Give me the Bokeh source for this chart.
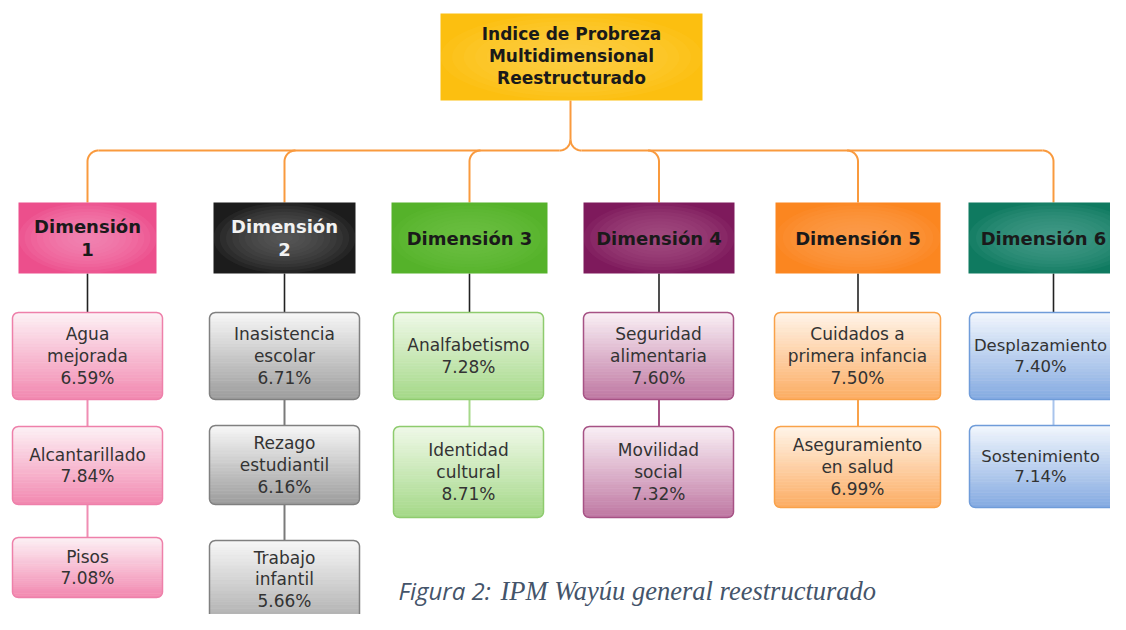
import numpy as np
from bokeh.plotting import figure
from bokeh.models import Range1d
from bokeh.core.properties import value
from bokeh.embed import file_html
from bokeh.resources import INLINE

# ---------------- data ----------------
root_label = "Indice de Probreza\nMultidimensional\nReestructurado"
dimension_labels = ["Dimensión\n1", "Dimensión\n2", "Dimensión 3",
                    "Dimensión 4", "Dimensión 5", "Dimensión 6"]
d1_labels = ["Agua\nmejorada", "Alcantarillado", "Pisos"]
d1_values = [6.59, 7.84, 7.08]
d2_labels = ["Inasistencia\nescolar", "Rezago\nestudiantil", "Trabajo\ninfantil"]
d2_values = [6.71, 6.16, 5.66]
d3_labels = ["Analfabetismo", "Identidad\ncultural"]
d3_values = [7.28, 8.71]
d4_labels = ["Seguridad\nalimentaria", "Movilidad\nsocial"]
d4_values = [7.60, 7.32]
d5_labels = ["Cuidados a\nprimera infancia", "Aseguramiento\nen salud"]
d5_values = [7.50, 6.99]
d6_labels = ["Desplazamiento", "Sostenimiento"]
d6_values = [7.40, 7.14]
caption_a = "Figura 2:"
caption_b = "IPM Wayúu general reestructurado"

indicator_labels = [d1_labels, d2_labels, d3_labels, d4_labels, d5_labels, d6_labels]
indicator_values = [d1_values, d2_values, d3_values, d4_values, d5_values, d6_values]

# ---------------- layout / style ----------------
root_box = (440, 702, 13, 100)
hdr_x = [(18, 156), (213, 355), (391, 547), (583, 734), (775, 940), (968, 1138)]
hdr_text_x = [87, 284, 469, 658.5, 857.5, 1043]
hdr_y = (202, 273)
child_x = [(12, 162), (209, 359), (393, 543), (583, 733), (774, 940), (969, 1137)]
child_text_x = [87, 284, 468, 658, 857, 1040]
child_font = ["17px", "17px", "17px", "17px", "17px", "16.5px"]
# (top, bottom, text centre) of every indicator box
child_y = [[(312, 399, 355.5), (426, 504, 465), (537, 597, 567)],
           [(312, 399, 355.5), (425, 504, 464.5), (540, 640, 579)],
           [(312, 399, 355.5), (426, 517, 471.5)],
           [(312, 399, 355.5), (426, 517, 471.5)],
           [(312, 399, 355.5), (426, 507, 466.5)],
           [(312, 399, 355.5), (425, 507, 466)]]
bus_y = 150
brace_x = 570
corner_r = 11
LH = 1.09  # bokeh line height factor giving ~21.5px line spacing at 17px

hdr_fill = ["#EC4F8C", "#1C1C1C", "#55B22A", "#7E1A5C", "#FB8620", "#0F7A60"]
hdr_glow = ["#F596BC", "#6A6A6A", "#74C44B", "#A9598E", "#FDA75C", "#52A893"]
hdr_text = ["#1a1a1a", "#F2F2F2", "#1a1a1a", "#1a1a1a", "#1a1a1a", "#1a1a1a"]
child_top = ["#FDF2F6", "#F8F8F8", "#F0F9E9", "#FAF1F6", "#FFF5EA", "#F3F7FD"]
child_bot = ["#F288B0", "#9C9C9C", "#A4D887", "#BF77A2", "#FCAC62", "#84AAE1"]
child_edge = ["#EE80AA", "#808080", "#8ECB6E", "#A65285", "#F9A24A", "#6F9CD9"]
link_col = ["#F08DB3", "#7A7A7A", "#A6D98A", "#A65285", "#F9A24A", "#A9C4EC"]
orange_line = "#F99A3E"

W, H = 1110, 614
p = figure(width=W, height=H, x_range=Range1d(0, W), y_range=Range1d(H, 0),
           output_backend="svg", toolbar_location=None, min_border=0,
           x_axis_location=None, y_axis_location=None)
p.grid.visible = False
p.outline_line_color = None
p.background_fill_color = "white"
p.border_fill_color = "white"


def hex_to_rgb(c):
    c = c.lstrip("#")
    return np.array([int(c[i:i + 2], 16) for i in (0, 2, 4)], dtype=float)


def mix(c1, c2, t):
    a, b = hex_to_rgb(c1), hex_to_rgb(c2)
    m = a + (b - a) * t
    return "#%02x%02x%02x" % tuple(int(round(v)) for v in m)


def inset(y, y0, y1, r):
    if y < y0 + r:
        d = y0 + r - y
    elif y > y1 - r:
        d = y - (y1 - r)
    else:
        return 0.0
    return r - np.sqrt(max(r * r - d * d, 0.0))


def band(x0, x1, y0, y1, r, ya, yb, k=6):
    ys = np.linspace(ya, yb, k)
    lx = [x0 + inset(y, y0, y1, r) for y in ys]
    rx = [x1 - inset(y, y0, y1, r) for y in ys]
    return lx + rx[::-1], list(ys) + list(ys[::-1])


def gradient_box(x0, x1, y0, y1, r, ctop, cbot, edge, n=28):
    xs, ys, cs = [], [], []
    edges = np.linspace(y0, y1, n + 1)
    for i in range(n):
        bx, by = band(x0, x1, y0, y1, r, edges[i], edges[i + 1])
        xs.append(bx); ys.append(by)
        cs.append(mix(ctop, cbot, (i + 0.5) / n))
    p.patches(xs=xs, ys=ys, fill_color=cs, line_color=cs, line_width=0.6)
    oy = np.concatenate([np.linspace(y0, y0 + r, 14), np.linspace(y1 - r, y1, 14)])
    ox = [x0 + inset(y, y0, y1, r) for y in oy]
    ox2 = [x1 - inset(y, y0, y1, r) for y in oy]
    p.patch(x=ox + ox2[::-1], y=list(oy) + list(oy[::-1]), fill_color=None,
            line_color=edge, line_width=1.5)


def glow_box(x0, x1, y0, y1, fill, glow, alpha=0.12, steps=11):
    p.quad(left=[x0], right=[x1], top=[y0], bottom=[y1], fill_color=fill, line_color=None)
    cx, cy = (x0 + x1) / 2, (y0 + y1) / 2
    w, h = x1 - x0, y1 - y0
    s = np.linspace(1.0, 0.12, steps)
    p.ellipse(x=[cx] * steps, y=[cy] * steps, width=list(w * s), height=list(h * s),
              fill_color=glow, fill_alpha=alpha, line_color=None)


# ---------------- orange connector bus ----------------
centers = [(a + b) / 2 for a, b in hdr_x[:5]] + [1053]
r = corner_r
t = np.linspace(0, np.pi / 2, 16)
paths_x, paths_y = [], []
paths_x.append([brace_x, brace_x]); paths_y.append([root_box[3], bus_y - r])
paths_x.append(list(brace_x - r + r * np.cos(t))); paths_y.append(list(bus_y - r + r * np.sin(t)))
paths_x.append(list(brace_x + r - r * np.cos(t))); paths_y.append(list(bus_y - r + r * np.sin(t)))
paths_x.append([centers[0] + r, brace_x - r]); paths_y.append([bus_y, bus_y])
paths_x.append([brace_x + r, centers[-1] - r]); paths_y.append([bus_y, bus_y])
for cx in centers:
    if cx < brace_x:
        ax = cx + r - r * np.sin(t)
    else:
        ax = cx - r + r * np.sin(t)
    ay = bus_y + r - r * np.cos(t)
    paths_x.append(list(ax) + [cx]); paths_y.append(list(ay) + [hdr_y[0]])
p.multi_line(xs=paths_x, ys=paths_y, line_color=orange_line, line_width=2)

# ---------------- root box ----------------
x0, x1, y0, y1 = root_box
glow_box(x0, x1, y0, y1, "#FCBF10", "#FDD45A", alpha=0.10)
p.text(x=[(x0 + x1) / 2], y=[55.5], text=[root_label],
       text_font=value("DejaVu Sans"), text_font_style="bold", text_font_size="17px",
       text_color="#1a1a1a", text_align="center", text_baseline="middle",
       text_line_height=LH)

# ---------------- dimension columns ----------------
for i, lab in enumerate(dimension_labels):
    hx0, hx1 = hdr_x[i]
    cx = centers[i]
    cx0, cx1 = child_x[i]
    rows = child_y[i]
    p.line(x=[cx, cx], y=[hdr_y[1], rows[0][0]], line_color="#222222", line_width=1.6)
    for j in range(len(rows) - 1):
        p.line(x=[cx, cx], y=[rows[j][1], rows[j + 1][0]], line_color=link_col[i], line_width=2)
    glow_box(hx0, hx1, hdr_y[0], hdr_y[1], hdr_fill[i], hdr_glow[i])
    p.text(x=[hdr_text_x[i]], y=[(hdr_y[0] + hdr_y[1]) / 2], text=[lab],
           text_font=value("DejaVu Sans"), text_font_style="bold", text_font_size="18px",
           text_color=hdr_text[i], text_align="center", text_baseline="middle",
           text_line_height=1.10)
    for j, (ya, yb, yc) in enumerate(rows):
        gradient_box(cx0, cx1, ya, yb, 6, child_top[i], child_bot[i], child_edge[i])
        txt = f"{indicator_labels[i][j]}\n{indicator_values[i][j]:.2f}%"
        p.text(x=[child_text_x[i]], y=[yc], text=[txt],
               text_font=value("DejaVu Sans"), text_font_size=child_font[i],
               text_color="#333333", text_align="center", text_baseline="middle",
               text_line_height=LH)

# ---------------- caption ----------------
p.text(x=[398], y=[590], text=[caption_a], text_font=value("Open Sans"),
       text_font_style="italic", text_font_size="24px", text_color="#44546A",
       text_align="left", text_baseline="middle")
p.text(x=[500], y=[590], text=[caption_b], text_font=value("Liberation Serif"),
       text_font_style="italic", text_font_size="26.5px", text_color="#44546A",
       text_align="left", text_baseline="middle")

open("out.html", "w").write(file_html(p, INLINE))
